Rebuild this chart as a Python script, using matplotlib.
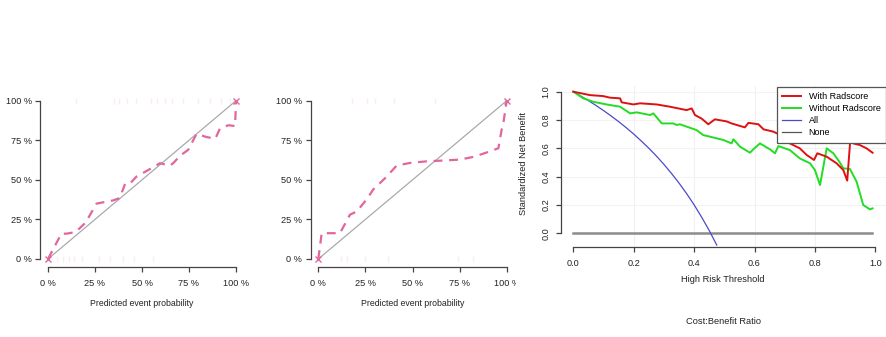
import matplotlib
matplotlib.use("Agg")
import matplotlib.pyplot as plt
from matplotlib.lines import Line2D
from matplotlib.patches import Rectangle

plt.rcParams['font.family'] = ['Liberation Sans', 'DejaVu Sans']

W, H = 886, 337
DPI = 100

# ---------------- data ----------------
# calibration panel 1 (training)
cal1_pred = [0.0, 0.071, 0.098, 0.147, 0.20, 0.258, 0.346, 0.382, 0.41, 0.435, 0.47, 0.50,
             0.56, 0.595, 0.65, 0.67, 0.70, 0.746, 0.79, 0.845, 0.89, 0.915, 0.96, 0.995, 1.0]
cal1_obs = [0.0, 0.16, 0.16, 0.17, 0.23, 0.35, 0.37, 0.385, 0.475, 0.475, 0.52, 0.54,
            0.58, 0.605, 0.59, 0.61, 0.65, 0.69, 0.79, 0.77, 0.76, 0.825, 0.845, 0.84, 1.0]
# calibration panel 2 (validation)
cal2_pred = [0.0, 0.018, 0.115, 0.168, 0.204, 0.257, 0.292, 0.354, 0.416, 0.487, 0.575,
             0.68, 0.752, 0.823, 0.912, 0.956, 0.973, 0.98, 1.0]
cal2_obs = [0.0, 0.163, 0.163, 0.28, 0.30, 0.377, 0.44, 0.51, 0.59, 0.607, 0.617,
            0.623, 0.628, 0.645, 0.68, 0.70, 0.816, 0.84, 1.0]
rug1_top = [0.15, 0.35, 0.38, 0.42, 0.47, 0.55, 0.58, 0.62, 0.66, 0.72, 0.80, 0.86, 0.92, 0.97]
rug1_bottom = [0.05, 0.08, 0.11, 0.14, 0.18, 0.27, 0.33, 0.40, 0.46, 0.56]
rug2_top = [0.18, 0.26, 0.30, 0.40, 0.62, 0.99]
rug2_bottom = [0.12, 0.15, 0.25, 0.37, 0.74, 0.82]
pct_ticks = [0, 0.25, 0.5, 0.75, 1.0]
pct_labels = ['0 %', '25 %', '50 %', '75 %', '100 %']

# decision curve
thr_red = [0.0, 0.055, 0.099, 0.121, 0.155, 0.16, 0.199, 0.221, 0.276, 0.32, 0.375, 0.392,
           0.403, 0.425, 0.447, 0.469, 0.508, 0.524, 0.568, 0.58, 0.613, 0.63, 0.662, 0.68,
           0.706, 0.75, 0.773, 0.797, 0.808, 0.839, 0.872, 0.894, 0.907, 0.918, 0.927,
           0.949, 0.971, 0.991]
nb_red = [1.0, 0.976, 0.969, 0.958, 0.953, 0.925, 0.91, 0.918, 0.91, 0.894, 0.87, 0.882,
          0.835, 0.81, 0.77, 0.805, 0.79, 0.776, 0.748, 0.78, 0.77, 0.734, 0.718, 0.70,
          0.647, 0.60, 0.553, 0.518, 0.565, 0.541, 0.494, 0.447, 0.372, 0.682, 0.635,
          0.623, 0.60, 0.569]
thr_green = [0.0, 0.033, 0.066, 0.11, 0.155, 0.188, 0.21, 0.254, 0.265, 0.293, 0.331, 0.342,
             0.353, 0.408, 0.43, 0.453, 0.497, 0.524, 0.53, 0.552, 0.585, 0.596, 0.618,
             0.651, 0.668, 0.679, 0.717, 0.75, 0.784, 0.80, 0.817, 0.839, 0.861, 0.883,
             0.894, 0.916, 0.938, 0.96, 0.982, 0.991]
nb_green = [1.0, 0.953, 0.929, 0.91, 0.894, 0.847, 0.854, 0.835, 0.847, 0.776, 0.776, 0.765,
            0.77, 0.729, 0.694, 0.682, 0.659, 0.635, 0.664, 0.612, 0.569, 0.593, 0.635,
            0.593, 0.565, 0.616, 0.588, 0.529, 0.494, 0.447, 0.341, 0.60, 0.565, 0.499,
            0.459, 0.454, 0.365, 0.20, 0.169, 0.176]
thr_all = [0.0, 0.025, 0.05, 0.075, 0.10, 0.125, 0.15, 0.175, 0.20, 0.225, 0.25, 0.275,
           0.30, 0.325, 0.35, 0.375, 0.40, 0.425, 0.45, 0.475]
nb_all = [1.0, 0.969, 0.937, 0.903, 0.867, 0.829, 0.789, 0.746, 0.701, 0.652, 0.601, 0.546,
          0.487, 0.423, 0.355, 0.281, 0.201, 0.114, 0.020, -0.083]
thr_none = [0.0, 0.99]
nb_none = [0.0, 0.0]
dca_ticks = [0.0, 0.2, 0.4, 0.6, 0.8, 1.0]
dca_labels = ['0.0', '0.2', '0.4', '0.6', '0.8', '1.0']

PINK = '#E2669E'
TXT = '#222222'


def add_ax(fig, xpx0, xpx1, xv0, xv1, xlim, ypx0, ypx1, yv0, yv1, ylim):
    sx = (xpx1 - xpx0) / (xv1 - xv0)
    sy = (ypx1 - ypx0) / (yv1 - yv0)  # negative (pixel y goes down)
    left = xpx0 + (xlim[0] - xv0) * sx
    right = xpx0 + (xlim[1] - xv0) * sx
    bottom = ypx0 + (ylim[0] - yv0) * sy
    top = ypx0 + (ylim[1] - yv0) * sy
    ax = fig.add_axes([left / W, (H - bottom) / H, (right - left) / W, (bottom - top) / H])
    ax.set_xlim(*xlim)
    ax.set_ylim(*ylim)
    return ax


def r_style(ax, xb, yb):
    for s in ['top', 'right']:
        ax.spines[s].set_visible(False)
    for s in ['left', 'bottom']:
        ax.spines[s].set_color('#444444')
        ax.spines[s].set_linewidth(0.9)
    ax.spines['bottom'].set_bounds(*xb)
    ax.spines['left'].set_bounds(*yb)
    ax.tick_params(length=3.6, width=0.9, color='#444444', labelsize=6.6, labelcolor=TXT)
    ax.set_facecolor('none')


fig = plt.figure(figsize=(W / DPI, H / DPI), dpi=DPI)

# ---- calibration panels ----
cal_specs = [
    (48, 236, cal1_pred, cal1_obs, rug1_top, rug1_bottom, 142),
    (318.3, 506.7, cal2_pred, cal2_obs, rug2_top, rug2_bottom, 413),
]
for x0p, x1p, px, py, rt, rb, lab_x in cal_specs:
    ax = add_ax(fig, x0p, x1p, 0, 1, (-0.04, 1.04), 259, 100.7, 0, 1, (-0.0505, 1.05))
    r_style(ax, (0, 1), (0, 1))
    ax.plot([0, 1], [0, 1], color='#AAAAAA', lw=0.9, zorder=2)
    ax.plot(px, py, color=PINK, lw=1.6, ls=(0, (4, 3)), zorder=3)
    ax.plot([0, 1], [0, 1], ls='none', marker='x', ms=4, mew=1, color=PINK, zorder=4)
    ax.plot(rt, [1] * len(rt), ls='none', marker='|', ms=4, color=PINK, alpha=0.12)
    ax.plot(rb, [0] * len(rb), ls='none', marker='|', ms=4, color=PINK, alpha=0.12)
    ax.set_xticks(pct_ticks)
    ax.set_xticklabels(pct_labels)
    ax.set_yticks(pct_ticks)
    ax.set_yticklabels(pct_labels)
    ax.tick_params(axis='x', pad=5.0)
    ax.tick_params(axis='y', pad=2.5)
    fig.text(lab_x / W, (H - 303.5) / H, 'Predicted event probability', fontsize=6.3,
             ha='center', va='center', color=TXT)

# white background of the decision curve image (covers the clipped tick label)
fig.patches.append(Rectangle((516 / W, 0), 1 - 516 / W, 1, transform=fig.transFigure,
                             facecolor='white', edgecolor='none', zorder=5))

# ---- decision curve panel ----
ax3 = add_ax(fig, 573.3, 875.3, 0, 1, (-0.04, 1.04), 233.3, 91.7, 0, 1, (-0.1, 1.04))
ax3.set_zorder(6)
r_style(ax3, (0, 1), (0, 1))
for v in [0.2, 0.4, 0.6, 0.8]:
    ax3.axvline(v, color='#F0F0F0', lw=0.8, zorder=0)
for v in [0.2, 0.4, 0.6, 0.8, 1.0]:
    ax3.axhline(v, color='#F3F3F3', lw=0.8, zorder=0)
ax3.plot(thr_none, nb_none, color='#8C8C8C', lw=1.8, label='None', zorder=2)
ax3.plot(thr_all, nb_all, color='#4B4BC8', lw=0.9, label='All', zorder=3)
ax3.plot(thr_green, nb_green, color='#22DD22', lw=1.4, label='Without Radscore', zorder=4)
ax3.plot(thr_red, nb_red, color='#DD1111', lw=1.4, label='With Radscore', zorder=5)
ax3.set_xticks(dca_ticks)
ax3.set_xticklabels(dca_labels)
ax3.set_yticks(dca_ticks)
ax3.set_yticklabels(dca_labels, rotation=90, va='center')
ax3.tick_params(axis='x', pad=5.0)
ax3.tick_params(axis='y', pad=4)
fig.text(723 / W, (H - 279) / H, 'High Risk Threshold', fontsize=6.7, ha='center',
         va='center', color=TXT, zorder=7)
fig.text(524 / W, (H - 163) / H, 'Standardized Net Benefit', fontsize=6.7, ha='center',
         va='center', rotation=90, color=TXT, zorder=7)
fig.text(723 / W, (H - 322) / H, 'Cost:Benefit Ratio', fontsize=6.7, ha='center', va='center',
         color=TXT, zorder=7)

handles = [Line2D([], [], color='#DD1111', lw=1.4),
           Line2D([], [], color='#22DD22', lw=1.4),
           Line2D([], [], color='#4B4BC8', lw=0.9),
           Line2D([], [], color='#555555', lw=0.9)]
leg = ax3.legend(handles, ['With Radscore', 'Without Radscore', 'All', 'None'],
                 loc='upper left', bbox_to_anchor=(777 / W, (H - 87) / H),
                 bbox_transform=fig.transFigure, fontsize=6.5, frameon=True, fancybox=False,
                 framealpha=1, edgecolor='#555555', borderpad=0.6, labelspacing=0.32,
                 handlelength=2.1, handletextpad=0.8, borderaxespad=0)
leg.get_frame().set_linewidth(0.9)
leg.set_zorder(10)

fig.savefig('out.png', dpi=DPI, facecolor='white')
